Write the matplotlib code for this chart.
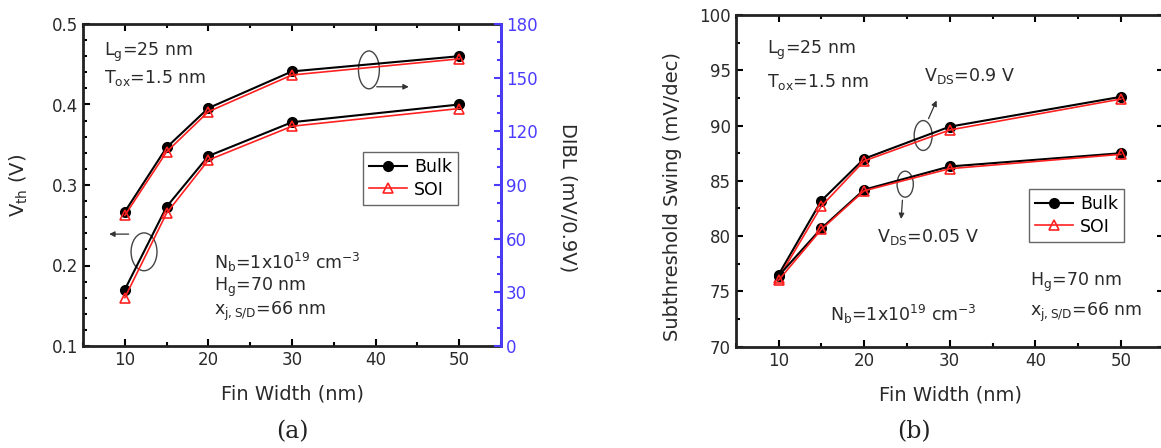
import numpy as np
import matplotlib.pyplot as plt
from matplotlib.patches import Ellipse
from matplotlib.ticker import MultipleLocator

plt.rcParams['font.family'] = ['DejaVu Sans']
plt.rcParams['mathtext.default'] = 'regular'

# Dados
fin_width = [10, 15, 20, 30, 50]

# (a) Vth (eixo esquerdo) e DIBL (eixo direito)
vth_bulk = [0.170, 0.273, 0.336, 0.378, 0.400]
vth_soi = [0.160, 0.265, 0.331, 0.373, 0.395]
dibl_bulk = [75, 111, 133, 153.5, 162]
dibl_soi = [73, 108.5, 131, 151.5, 160.5]

# (b) Subthreshold swing
ss_bulk_09 = [76.5, 83.2, 87.0, 89.9, 92.6]
ss_soi_09 = [76.2, 82.7, 86.8, 89.6, 92.4]
ss_bulk_005 = [76.4, 80.7, 84.2, 86.3, 87.5]
ss_soi_005 = [76.0, 80.6, 84.1, 86.1, 87.4]

blue = '#4b3cff'
txt = '#2a2a2a'
fs_tick = 12
fs_lab = 14
fs_txt = 12.5

fig = plt.figure(figsize=(11.61, 4.48), dpi=100)
ax1 = fig.add_axes([83 / 1161, 102 / 448, 418 / 1161, 322 / 448])
ax3 = fig.add_axes([735.7 / 1161, 101.3 / 448, 428 / 1161, 331.7 / 448])


def estilo(ax):
    for s in ax.spines.values():
        s.set_linewidth(2)
        s.set_color('#222222')
    ax.tick_params(which='both', direction='in', top=True, labelsize=fs_tick,
                   labelcolor=txt, width=1.5)
    ax.tick_params(which='major', length=5)
    ax.tick_params(which='minor', length=3)
    ax.set_xlim(5, 55)
    ax.xaxis.set_major_locator(MultipleLocator(10))
    ax.xaxis.set_minor_locator(MultipleLocator(5))
    ax.set_xlabel('Fin Width (nm)', fontsize=fs_lab, color=txt)


def curvas(ax, xb, yb, ys, label=True):
    ax.plot(xb, yb, '-o', color='black', lw=1.5, ms=7,
            label='Bulk' if label else None)
    ax.plot(xb, ys, '-^', color='#ff2020', lw=1.2, ms=7.5, mfc='none', mew=1.2,
            label='SOI' if label else None)


def legenda(ax, anchor):
    ax.legend(loc='upper left', bbox_to_anchor=anchor, borderaxespad=0,
              fontsize=fs_txt, fancybox=False, edgecolor='#666666',
              framealpha=1, handlelength=2.2, handletextpad=0.4,
              borderpad=0.35, labelspacing=0.25)


# Painel (a)
estilo(ax1)
ax1.tick_params(axis='y', right=False)
ax1.set_ylim(0.1, 0.5)
ax1.yaxis.set_major_locator(MultipleLocator(0.1))
ax1.yaxis.set_minor_locator(MultipleLocator(0.02))
ax1.set_ylabel('V$_{th}$ (V)', fontsize=fs_lab, color=txt)
ax1.yaxis.set_label_coords(-0.127, 0.5)
ax1.xaxis.set_label_coords(0.502, -0.121)

ax2 = ax1.twinx()
ax2.set_ylim(0, 180)
ax2.yaxis.set_major_locator(MultipleLocator(30))
ax2.yaxis.set_minor_locator(MultipleLocator(10))
ax2.tick_params(which='both', direction='in', labelsize=fs_tick, labelcolor=blue,
                color=blue, width=1.5)
ax2.tick_params(which='major', length=5)
ax2.tick_params(which='minor', length=3)
for s in ['left', 'top', 'bottom']:
    ax2.spines[s].set_visible(False)
ax2.spines['right'].set_color(blue)
ax2.spines['right'].set_linewidth(2)
ax2.set_ylabel('DIBL (mV/0.9V)', fontsize=fs_lab, color=txt, rotation=270,
               va='center')
ax2.yaxis.set_label_coords(1.160, 0.46)

curvas(ax1, fin_width, vth_bulk, vth_soi)
curvas(ax2, fin_width, dibl_bulk, dibl_soi, label=False)
legenda(ax1, (0.67, 0.602))

# Elipses e setas
ax1.add_patch(Ellipse((12.3, 0.217), 3.1, 0.047, fill=False, color='#444444', lw=1))
ax1.annotate('', xy=(7.8, 0.239), xytext=(10.8, 0.239),
             arrowprops=dict(arrowstyle='-|>', color='#333333', lw=0.9, mutation_scale=8))
ax1.add_patch(Ellipse((39.2, 0.443), 2.5, 0.047, fill=False, color='#444444', lw=1))
ax1.annotate('', xy=(44.3, 0.422), xytext=(39.8, 0.422),
             arrowprops=dict(arrowstyle='-|>', color='#333333', lw=0.9, mutation_scale=8))

ax1.text(0.05, 0.913, 'L$_g$=25 nm', transform=ax1.transAxes, fontsize=fs_txt, color=txt, va='center')
ax1.text(0.05, 0.832, 'T$_{ox}$=1.5 nm', transform=ax1.transAxes, fontsize=fs_txt, color=txt, va='center')
ax1.text(0.314, 0.261, 'N$_b$=1x10$^{19}$ cm$^{-3}$', transform=ax1.transAxes, fontsize=fs_txt, color=txt, va='center')
ax1.text(0.314, 0.183, 'H$_g$=70 nm', transform=ax1.transAxes, fontsize=fs_txt, color=txt, va='center')
ax1.text(0.314, 0.108, 'x$_{j,S/D}$=66 nm', transform=ax1.transAxes, fontsize=fs_txt, color=txt, va='center')

# Painel (b)
estilo(ax3)
ax3.tick_params(axis='y', right=True)
ax3.set_ylim(70, 100)
ax3.yaxis.set_major_locator(MultipleLocator(5))
ax3.yaxis.set_minor_locator(MultipleLocator(2.5))
ax3.set_ylabel('Subthreshold Swing (mV/dec)', fontsize=fs_lab, color=txt)
ax3.yaxis.set_label_coords(-0.125, 0.454)
ax3.xaxis.set_label_coords(0.503, -0.118)

curvas(ax3, fin_width, ss_bulk_09, ss_soi_09)
curvas(ax3, fin_width, ss_bulk_005, ss_soi_005, label=False)
legenda(ax3, (0.685, 0.475))

ax3.add_patch(Ellipse((26.9, 89.1), 2.1, 2.7, fill=False, color='#444444', lw=1))
ax3.annotate('', xy=(28.6, 92.5), xytext=(27.4, 90.4),
             arrowprops=dict(arrowstyle='-|>', color='#333333', lw=0.9, mutation_scale=8))
ax3.add_patch(Ellipse((24.8, 84.7), 1.9, 2.35, fill=False, color='#444444', lw=1))
ax3.annotate('', xy=(24.3, 81.3), xytext=(24.5, 83.5),
             arrowprops=dict(arrowstyle='-|>', color='#333333', lw=0.9, mutation_scale=8))

ax3.text(0.073, 0.894, 'L$_g$=25 nm', transform=ax3.transAxes, fontsize=fs_txt, color=txt, va='center')
ax3.text(0.073, 0.798, 'T$_{ox}$=1.5 nm', transform=ax3.transAxes, fontsize=fs_txt, color=txt, va='center')
ax3.text(0.44, 0.815, 'V$_{DS}$=0.9 V', transform=ax3.transAxes, fontsize=fs_txt, color=txt, va='center')
ax3.text(0.33, 0.33, 'V$_{DS}$=0.05 V', transform=ax3.transAxes, fontsize=fs_txt, color=txt, va='center')
ax3.text(0.22, 0.098, 'N$_b$=1x10$^{19}$ cm$^{-3}$', transform=ax3.transAxes, fontsize=fs_txt, color=txt, va='center')
ax3.text(0.687, 0.195, 'H$_g$=70 nm', transform=ax3.transAxes, fontsize=fs_txt, color=txt, va='center')
ax3.text(0.687, 0.103, 'x$_{j,S/D}$=66 nm', transform=ax3.transAxes, fontsize=fs_txt, color=txt, va='center')

# Rótulos (a) e (b)
fig.text(292 / 1161, 1 - 432 / 448, '(a)', fontsize=17, family='DejaVu Serif', ha='center', va='center', color='#222222')
fig.text(914 / 1161, 1 - 432 / 448, '(b)', fontsize=17, family='DejaVu Serif', ha='center', va='center', color='#222222')

fig.savefig('out.png', dpi=100)
